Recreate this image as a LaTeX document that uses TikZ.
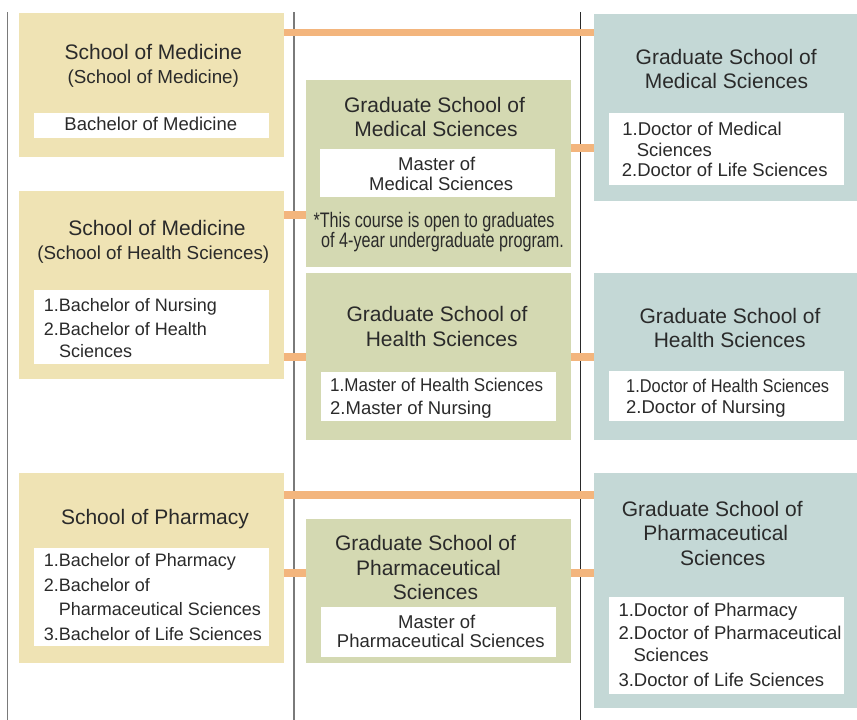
\documentclass[tikz,border=0pt]{standalone}
\usepackage{fontspec}
\setmainfont{Liberation Sans}
\newfontfamily\condfont[FakeStretch=0.77]{Liberation Sans}
\usepackage{graphicx}
\definecolor{cyel}{HTML}{EFE3B4}
\definecolor{cgrn}{HTML}{D4D9B2}
\definecolor{cblu}{HTML}{C4D8D6}
\definecolor{corg}{HTML}{F3B57D}
\definecolor{ctxt}{HTML}{2A2A2A}
\definecolor{cgray}{HTML}{7A7A7A}
\tikzset{
  box/.style={anchor=north west, inner sep=0pt, outer sep=0pt, draw=none},
  yelbox/.style={box, fill=cyel, minimum width=265pt},
  grnbox/.style={box, fill=cgrn, minimum width=265pt},
  blubox/.style={box, fill=cblu, minimum width=263pt},
  whbox/.style={box, fill=white, minimum width=235pt},
  ttl/.style={anchor=base, inner sep=0pt, text=ctxt, font=\fontsize{21}{24}\selectfont},
  subttl/.style={anchor=base, inner sep=0pt, text=ctxt, font=\fontsize{18.8}{24}\selectfont},
  itm/.style={anchor=base west, inner sep=0pt, text=ctxt, font=\fontsize{18.5}{22}\selectfont},
  itms/.style={anchor=base west, inner sep=0pt, text=ctxt, font=\fontsize{18}{22}\selectfont},
  itmc/.style={anchor=base, inner sep=0pt, text=ctxt, font=\fontsize{18.5}{22}\selectfont},
  notetext/.style={anchor=base west, inner sep=0pt, text=ctxt, font=\condfont\fontsize{21}{21}\selectfont},
  conn/.style={draw=corg, line width=7.5pt},
  vgray/.style={draw=cgray, line width=1.3pt},
  vdark/.style={draw=ctxt, line width=1.2pt}
}
\begin{document}
\begin{tikzpicture}[x=1pt,y=-1pt]
\useasboundingbox (0,0) rectangle (857,720);

% column rules
\coordinate (v1t) at (7.5,12);  \coordinate (v1b) at (7.5,720);
\coordinate (v2t) at (294,12);  \coordinate (v2b) at (294,720);
\coordinate (v3t) at (580.3,12); \coordinate (v3b) at (580.3,720);
\draw[vgray] (v1t) -- (v1b);
\draw[vgray] (v2t) -- (v2b);
\draw[vdark] (v3t) -- (v3b);

% boxes
\node[yelbox, minimum height=144pt] (A) at (19,13) {};
\node[yelbox, minimum height=188pt] (B) at (19,191) {};
\node[yelbox, minimum height=190pt] (C) at (19,473) {};
\node[grnbox, minimum height=187pt] (D) at (306,80) {};
\node[grnbox, minimum height=167pt] (E) at (306,273) {};
\node[grnbox, minimum height=144pt] (F) at (306,519) {};
\node[blubox, minimum height=187pt] (G) at (594,14) {};
\node[blubox, minimum height=167pt] (H) at (594,273) {};
\node[blubox, minimum height=235pt] (I) at (594,473) {};

% white inner boxes
\node[whbox, minimum height=25pt] (wA) at (34,113) {};
\node[whbox, minimum height=74pt] (wB) at (34,290) {};
\node[whbox, minimum height=98pt] (wC) at (34,548) {};
\node[whbox, minimum height=48pt] (wD) at (320,149) {};
\node[whbox, minimum height=49pt] (wE) at (321,372) {};
\node[whbox, minimum height=50pt] (wF) at (321,607) {};
\node[whbox, minimum height=72pt] (wG) at (609,113) {};
\node[whbox, minimum height=50pt] (wH) at (609,371) {};
\node[whbox, minimum height=97pt] (wI) at (609,597) {};

% connectors
\coordinate (yAG) at (0,32.5);
\coordinate (yDG) at (0,148);
\coordinate (yBD) at (0,215);
\coordinate (yBE) at (0,357);
\coordinate (yCI) at (0,495);
\coordinate (yCF) at (0,573);
\draw[conn] (A.east |- yAG) -- (G.west |- yAG);
\draw[conn] (D.east |- yDG) -- (G.west |- yDG);
\draw[conn] (B.east |- yBD) -- (D.west |- yBD);
\draw[conn] (B.east |- yBE) -- (E.west |- yBE);
\draw[conn] (E.east |- yBE) -- (H.west |- yBE);
\draw[conn] (C.east |- yCI) -- (I.west |- yCI);
\draw[conn] (C.east |- yCF) -- (F.west |- yCF);
\draw[conn] (F.east |- yCF) -- (I.west |- yCF);

% box A
\node[ttl] (A1) at (153.3,59.3) {School of Medicine};
\node[subttl] (A2) at (153.3,83.3) {(School of Medicine)};
\node[itmc] (A3) at (150.8,130.7) {Bachelor of Medicine};

% box B
\node[ttl] (B1) at (157,235) {School of Medicine};
\node[subttl] (B2) at (153.3,259.3) {(School of Health Sciences)};
\node[itms] (B3) at (43.7,311.3) {1.Bachelor of Nursing};
\node[itms] (B4) at (43.7,335) {2.Bachelor of Health};
\node[itms] (B5) at (59,357.3) {Sciences};

% box C
\node[ttl] (C1) at (155,524.3) {School of Pharmacy};
\node[itms] (C2) at (43.7,566.7) {1.Bachelor of Pharmacy};
\node[itms] (C3) at (43.7,591) {2.Bachelor of};
\node[itms] (C4) at (58.7,615) {Pharmaceutical Sciences};
\node[itms] (C5) at (43.7,640) {3.Bachelor of Life Sciences};

% box D
\node[ttl] (D1) at (434.5,112.7) {Graduate School of};
\node[ttl] (D2) at (436,136.7) {Medical Sciences};
\node[itmc] (D3) at (436.7,170) {Master of};
\node[itmc] (D4) at (441.2,190.7) {Medical Sciences};
\node[notetext] (D5) at (313.3,227.7) {*This course is open to graduates};
\node[notetext] (D6) at (321,247.7) {of 4-year undergraduate program.};

% box E
\node[ttl] (E1) at (437,321.7) {Graduate School of};
\node[ttl] (E2) at (441.7,346) {Health Sciences};
\node[itm] (E3) at (330,391.7) {\scalebox{0.92}[1]{1.Master of Health Sciences}};
\node[itm] (E4) at (330,414.3) {2.Master of Nursing};

% box F
\node[ttl] (F1) at (425.5,550.7) {Graduate School of};
\node[ttl] (F2) at (428.5,575) {Pharmaceutical};
\node[ttl] (F3) at (435.5,599.3) {Sciences};
\node[itmc] (F4) at (436.7,628.3) {Master of};
\node[itmc] (F5) at (440.8,647.7) {Pharmaceutical Sciences};

% box G
\node[ttl] (G1) at (726.2,64.3) {Graduate School of};
\node[ttl] (G2) at (726.5,88.3) {Medical Sciences};
\node[itm] (G3) at (622.2,135) {1.Doctor of Medical};
\node[itm] (G4) at (636.7,156) {Sciences};
\node[itm] (G5) at (621.7,176.7) {2.Doctor of Life Sciences};

% box H
\node[ttl] (H1) at (730,323.3) {Graduate School of};
\node[ttl] (H2) at (729.7,347.3) {Health Sciences};
\node[itm] (H3) at (626,392.3) {\scalebox{0.885}[1]{1.Doctor of Health Sciences}};
\node[itm] (H4) at (626,413.3) {2.Doctor of Nursing};

% box I
\node[ttl] (I1) at (712.3,516) {Graduate School of};
\node[ttl] (I2) at (715.8,540.7) {Pharmaceutical};
\node[ttl] (I3) at (722.8,565) {Sciences};
\node[itm] (I4) at (618.3,616.7) {1.Doctor of Pharmacy};
\node[itm] (I5) at (618.3,639) {2.Doctor of Pharmaceutical};
\node[itm] (I6) at (633.3,661.7) {Sciences};
\node[itm] (I7) at (618.3,686.7) {3.Doctor of Life Sciences};
\end{tikzpicture}
\end{document}
